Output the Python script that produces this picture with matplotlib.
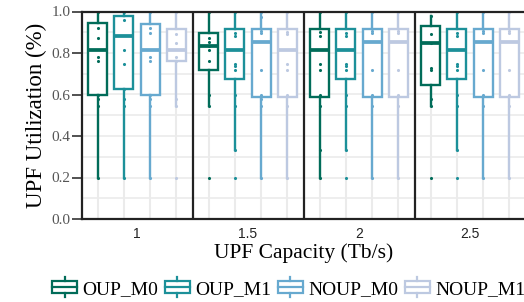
import matplotlib
matplotlib.use('Agg')
from matplotlib import pyplot as plt
from matplotlib.patches import Rectangle
from matplotlib.lines import Line2D
from matplotlib.legend_handler import HandlerBase

# facets (UPF capacity) and schemes
capacities = ['1', '1.5', '2', '2.5']
schemes = ['OUP_M0', 'OUP_M1', 'NOUP_M0', 'NOUP_M1']
colors = ['#016c59', '#1c9099', '#67a9cf', '#bdc9e1']

# box statistics per scheme, one value per capacity
q1 = {
	'OUP_M0': [0.600, 0.720, 0.590, 0.646],
	'OUP_M1': [0.625, 0.673, 0.673, 0.673],
	'NOUP_M0': [0.600, 0.590, 0.590, 0.590],
	'NOUP_M1': [0.763, 0.590, 0.590, 0.590],
}
med = {
	'OUP_M0': [0.814, 0.834, 0.814, 0.847],
	'OUP_M1': [0.883, 0.814, 0.814, 0.814],
	'NOUP_M0': [0.814, 0.852, 0.852, 0.852],
	'NOUP_M1': [0.814, 0.814, 0.852, 0.852],
}
q3 = {
	'OUP_M0': [0.943, 0.898, 0.916, 0.932],
	'OUP_M1': [0.980, 0.916, 0.916, 0.916],
	'NOUP_M0': [0.940, 0.914, 0.914, 0.914],
	'NOUP_M1': [0.916, 0.914, 0.914, 0.914],
}
whislo = {
	'OUP_M0': [0.200, 0.545, 0.200, 0.545],
	'OUP_M1': [0.200, 0.333, 0.333, 0.333],
	'NOUP_M0': [0.200, 0.200, 0.200, 0.200],
	'NOUP_M1': [0.545, 0.200, 0.200, 0.200],
}
whishi = {
	'OUP_M0': [1.0, 1.0, 1.0, 0.98],
	'OUP_M1': [1.0, 1.0, 1.0, 1.0],
	'NOUP_M0': [1.0, 1.0, 1.0, 1.0],
	'NOUP_M1': [1.0, 1.0, 1.0, 1.0],
}

# individual observations drawn over the boxes
points = {
	'OUP_M0': [
		[1.0, 0.92, 0.87, 0.78, 0.76, 0.60, 0.578, 0.545, 0.2],
		[1.0, 0.871, 0.855, 0.834, 0.814, 0.761, 0.60, 0.545, 0.2],
		[1.0, 0.90, 0.88, 0.746, 0.718, 0.60, 0.545, 0.333, 0.2],
		[0.98, 0.89, 0.85, 0.73, 0.72, 0.578, 0.545, 0.2],
	],
	'OUP_M1': [
		[1.0, 0.96, 0.814, 0.746, 0.625, 0.578, 0.545, 0.2],
		[1.0, 0.898, 0.88, 0.746, 0.735, 0.718, 0.60, 0.545, 0.333, 0.2],
		[1.0, 0.898, 0.88, 0.746, 0.735, 0.718, 0.60, 0.545, 0.333, 0.2],
		[1.0, 0.898, 0.88, 0.746, 0.735, 0.718, 0.60, 0.545, 0.333, 0.2],
	],
	'NOUP_M0': [
		[1.0, 0.92, 0.895, 0.78, 0.76, 0.60, 0.578, 0.545, 0.2],
		[1.0, 0.975, 0.907, 0.895, 0.718, 0.60, 0.578, 0.545, 0.2],
		[1.0, 0.907, 0.895, 0.718, 0.60, 0.545, 0.2],
		[1.0, 0.907, 0.895, 0.718, 0.60, 0.545, 0.2],
	],
	'NOUP_M1': [
		[1.0, 0.89, 0.85, 0.78, 0.76, 0.578, 0.545, 0.2],
		[1.0, 0.90, 0.89, 0.746, 0.718, 0.60, 0.545, 0.2],
		[1.0, 0.907, 0.895, 0.718, 0.60, 0.545, 0.2],
		[1.0, 0.907, 0.895, 0.718, 0.60, 0.545, 0.2],
	],
}

serif = 'Liberation Serif'
sans = 'Liberation Sans'


class BoxHandler(HandlerBase):
	#small box glyph for the legend
	def create_artists(self, legend, orig_handle, xdescent, ydescent, width, height, fontsize, trans):
		c = orig_handle.get_color()
		h = height * 0.85
		y0 = -ydescent + (height - h) / 2
		rect = Rectangle((-xdescent + 1, y0), width - 2, h, facecolor='white', edgecolor=c, lw=1.6, transform=trans)
		mid = Line2D([-xdescent + 1, -xdescent + width - 1], [y0 + h / 2] * 2, color=c, lw=1.6, transform=trans)
		cx = -xdescent + width / 2
		top = Line2D([cx, cx], [y0 + h, y0 + h + 3], color=c, lw=1.6, transform=trans)
		bot = Line2D([cx, cx], [y0 - 3, y0], color=c, lw=1.6, transform=trans)
		return [rect, mid, top, bot]


def main():
	fig = plt.figure(figsize=(5.24, 3.02), dpi=100)
	ax = fig.add_axes([81.5 / 524, 1 - 219 / 302, 444 / 524, 207.5 / 302])

	offsets = [-0.355, -0.118, 0.118, 0.355]
	width = 0.172

	for i, s in enumerate(schemes):
		col = colors[i]
		stats = []
		pos = []
		for j in range(len(capacities)):
			stats.append({'q1': q1[s][j], 'med': med[s][j], 'q3': q3[s][j],
				'whislo': whislo[s][j], 'whishi': whishi[s][j], 'fliers': []})
			pos.append(j + 0.5 + offsets[i])
		for p in pos:
			ax.axvline(p, color='#ebebeb', lw=1.5, zorder=0)
		ax.bxp(stats, positions=pos, widths=width, showcaps=False, patch_artist=True,
			boxprops=dict(facecolor='white', edgecolor=col, lw=1.7),
			medianprops=dict(color=col, lw=2.7),
			whiskerprops=dict(color=col, lw=1.7),
			zorder=2)
		for j in range(len(capacities)):
			ax.scatter([pos[j]] * len(points[s][j]), points[s][j], s=5, color=col, zorder=3, lw=0)

	for k in range(11):
		ax.axhline(k * 0.1, color='#ebebeb', lw=1.2, zorder=0)

	for b in range(1, len(capacities)):
		ax.axvline(b, color='#222222', lw=1.6, zorder=4)

	ax.set_xlim(0, len(capacities))
	ax.set_ylim(0, 1.0)
	ax.set_xticks([j + 0.5 for j in range(len(capacities))])
	ax.set_xticklabels(capacities, fontfamily=sans, fontsize=10, color='#222222')
	ax.set_yticks([0, 0.2, 0.4, 0.6, 0.8, 1.0])
	ax.set_yticklabels(['0.0', '0.2', '0.4', '0.6', '0.8', '1.0'], fontfamily=serif, fontsize=11, color='#555555')
	ax.tick_params(axis='x', length=0, pad=5.5)
	ax.tick_params(axis='y', length=7, width=1.2, color='#333333', pad=1)
	for sp in ax.spines.values():
		sp.set_color('#222222')
		sp.set_linewidth(1.6)
		sp.set_zorder(4)

	ax.set_xlabel('UPF Capacity (Tb/s)', fontfamily=serif, fontsize=15.5, labelpad=2)
	ax.set_ylabel('UPF Utilization (%)', fontfamily=serif, fontsize=16.5, labelpad=3)

	handles = [Line2D([], [], color=c) for c in colors]
	fig.legend(handles, schemes, handler_map={Line2D: BoxHandler()}, loc='center left',
		bbox_to_anchor=(50.5 / 524, 1 - 289 / 302), ncol=4, frameon=False, borderpad=0,
		borderaxespad=0, handlelength=1.45, handletextpad=0.2, columnspacing=0.25,
		prop={'family': serif, 'size': 14})

	fig.savefig('out.png', dpi=100)

main()
